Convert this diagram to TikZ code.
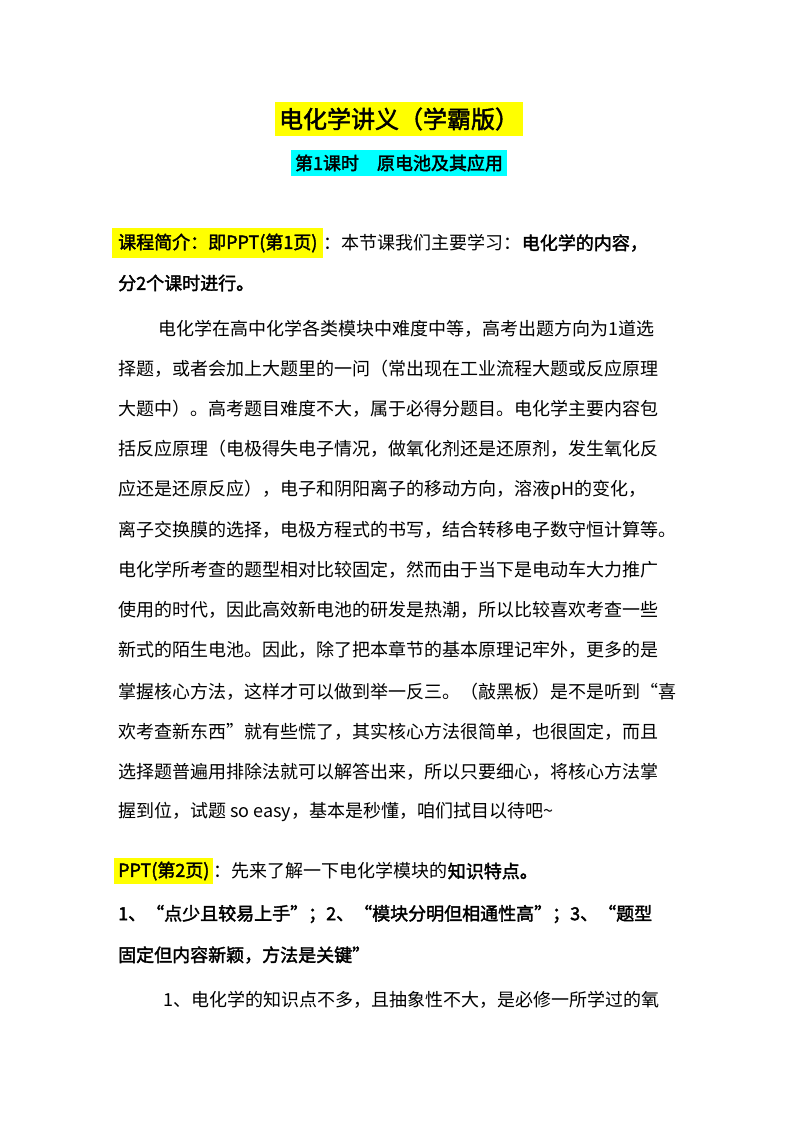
\documentclass[tikz,border=0pt]{standalone}
\usepackage{fontspec}
\newfontfamily\cjk{Noto Sans CJK SC}
\newfontfamily\cjkb[FakeBold=2]{Noto Sans CJK SC}
\definecolor{hy}{RGB}{255,255,0}
\definecolor{hc}{RGB}{0,255,255}
\tikzset{ln/.style={anchor=west,inner sep=0pt,font=\cjk\fontsize{18}{18}\selectfont},
 hl/.style={anchor=west,inner sep=2pt,font=\cjkb\fontsize{18}{18}\selectfont}}
\begin{document}
\begin{tikzpicture}[x=1pt,y=-1pt]
\useasboundingbox[fill=white] (0,0) rectangle (800,1132);
\node[fill=hy,inner xsep=4pt,inner ysep=6pt,font=\cjkb\fontsize{24}{24}\selectfont] (t1) at (399,119) {电化学讲义（学霸版）};
\node[fill=hc,inner xsep=4pt,inner ysep=5pt,font=\cjkb\fontsize{18}{18}\selectfont] (t2) at (399,163) {第1课时\quad 原电池及其应用};
\node[hl,fill=hy,inner sep=6pt] (a0) at (112,243) {课程简介：即PPT(第1页)};
\node[ln] (a1) at (a0.east) {：本节课我们主要学习：{\cjkb 电化学的内容，}};
\node[hl,inner sep=0pt] (a2) at (118,283) {分2个课时进行。};
\node[ln] (b1) at (158,329) {电化学在高中化学各类模块中难度中等，高考出题方向为1道选};
\node[ln] (b2) at (118,369) {择题，或者会加上大题里的一问（常出现在工业流程大题或反应原理};
\node[ln] (b3) at (118,409) {大题中）。高考题目难度不大，属于必得分题目。电化学主要内容包};
\node[ln] (b4) at (118,449) {括反应原理（电极得失电子情况，做氧化剂还是还原剂，发生氧化反};
\node[ln] (b5) at (118,490) {应还是还原反应），电子和阴阳离子的移动方向，溶液pH的变化，};
\node[ln] (b6) at (118,530) {离子交换膜的选择，电极方程式的书写，结合转移电子数守恒计算等。};
\node[ln] (b7) at (118,570) {电化学所考查的题型相对比较固定，然而由于当下是电动车大力推广};
\node[ln] (b8) at (118,610) {使用的时代，因此高效新电池的研发是热潮，所以比较喜欢考查一些};
\node[ln] (b9) at (118,650) {新式的陌生电池。因此，除了把本章节的基本原理记牢外，更多的是};
\node[ln] (b10) at (118,692) {掌握核心方法，这样才可以做到举一反三。（敲黑板）是不是听到“喜};
\node[ln] (b11) at (118,732) {欢考查新东西”就有些慌了，其实核心方法很简单，也很固定，而且};
\node[ln] (b12) at (118,772) {选择题普遍用排除法就可以解答出来，所以只要细心，将核心方法掌};
\node[ln] (b13) at (118,812) {握到位，试题 so easy，基本是秒懂，咱们拭目以待吧\textasciitilde};
\node[hl,fill=hy,inner sep=4pt] (c0) at (114,871) {PPT(第2页)};
\node[ln] (c1) at (c0.east) {：先来了解一下电化学模块的{\cjkb 知识特点。}};
\node[hl,inner sep=0pt] (c2) at (118,914) {1、“点少且较易上手”；2、“模块分明但相通性高”；3、“题型};
\node[hl,inner sep=0pt] (c3) at (118,955) {固定但内容新颖，方法是关键”};
\node[ln] (c4) at (163,1000) {1、电化学的知识点不多，且抽象性不大，是必修一所学过的氧};
\end{tikzpicture}
\end{document}
